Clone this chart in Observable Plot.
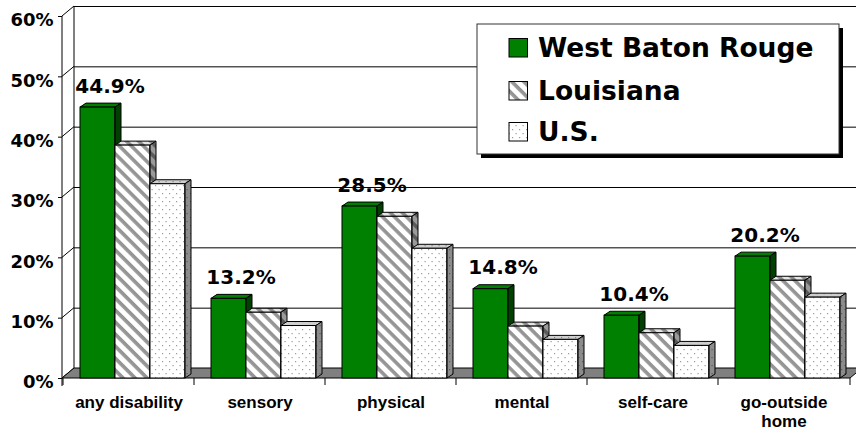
<!DOCTYPE html>
<html><head><meta charset="utf-8">
<script src="https://cdn.jsdelivr.net/npm/d3@7"></script>
<script src="https://cdn.jsdelivr.net/npm/@observablehq/plot@0.6"></script>
<style>html,body{margin:0;padding:0;background:#fff;} #chart svg{display:block}</style>
</head><body><div id="chart"></div>
<script>
// ---- data ----
const categories = ["any disability", "sensory", "physical", "mental", "self-care", "go-outside home"];
const categoryLabels = ["any disability", "sensory", "physical", "mental", "self-care", "go-outside\nhome"];
const seriesNames = ["West Baton Rouge", "Louisiana", "U.S."];
const westBatonRouge = [44.9, 13.2, 28.5, 14.8, 10.4, 20.2];
const louisiana = [38.6, 10.9, 26.8, 8.6, 7.5, 16.2];
const us = [32.2, 8.7, 21.5, 6.4, 5.4, 13.4];
const yTicks = [0, 10, 20, 30, 40, 50, 60];

// ---- layout ----
const W = 856, H = 433, ML = 62, MR = 6, MT = 16, MB = 55;
const BW = (W - ML - MR) / categories.length;
const DX = 12, DY = -10;   // wall depth
const BDX = 6, BDY = -4;   // bar depth
const slots = [[17, 52], [52, 87], [87, 122]];
const styles = [
  {front: "#008000", top: "#008000", side: "#004000"},
  {front: "url(#hatchF)", top: "url(#hatchT)", side: "url(#hatchS)"},
  {front: "url(#dotF)", top: "url(#dotT)", side: "url(#dotS)"}
];
const series = [westBatonRouge, louisiana, us].map((vals, i) =>
  vals.map((v, j) => ({cat: categories[j], value: v, series: seriesNames[i]})));
const labelFont = "'DejaVu Sans', sans-serif";

function wall(index, scales) {
  const {x, y} = scales;
  const g = d3.create("svg:g");
  const defs = g.append("defs");
  function hatch(id, bg, fg) {
    const p = defs.append("pattern").attr("id", id).attr("patternUnits", "userSpaceOnUse")
      .attr("width", 8.5).attr("height", 8.5).attr("patternTransform", "rotate(45)");
    p.append("rect").attr("width", 8.5).attr("height", 8.5).attr("fill", bg);
    p.append("rect").attr("width", 8.5).attr("height", 3.6).attr("fill", fg);
  }
  function dots(id, bg, fg) {
    const p = defs.append("pattern").attr("id", id).attr("patternUnits", "userSpaceOnUse")
      .attr("width", 7).attr("height", 8);
    p.append("rect").attr("width", 7).attr("height", 8).attr("fill", bg);
    p.append("rect").attr("x", 1).attr("y", 1).attr("width", 1.2).attr("height", 1.2).attr("fill", fg);
    p.append("rect").attr("x", 4.5).attr("y", 5).attr("width", 1.2).attr("height", 1.2).attr("fill", fg);
  }
  hatch("hatchF", "#ffffff", "#959595");
  hatch("hatchT", "#e4e4e4", "#8a8a8a");
  hatch("hatchS", "#9a9a9a", "#5a5a5a");
  dots("dotF", "#ffffff", "#9a9a9a");
  dots("dotT", "#cfcfcf", "#888888");
  dots("dotS", "#8c8c8c", "#5a5a5a");
  const [x0] = x.range();
  const yb = y(0), yt = y(60);
  const line = (a, b, c, d) => g.append("line").attr("x1", a).attr("y1", b).attr("x2", c).attr("y2", d)
    .attr("stroke", "black").attr("stroke-width", 1);
  for (const t of yTicks) line(x0, y(t), x0 + DX, y(t) + DY);
  line(x0 + DX, yb + DY, x0 + DX, yt + DY);
  line(x0, yb + 8, x0, yt);
  return g.node();
}

function floor(index, scales) {
  const {x, y} = scales;
  const g = d3.create("svg:g");
  const [x0, x1] = x.range();
  const yb = y(0);
  g.append("path").attr("d", `M${x0},${yb}L${x1},${yb}L${x1 + DX},${yb + DY}L${x0 + DX},${yb + DY}Z`)
    .attr("fill", "#808080").attr("stroke", "black");
  const edges = categories.map(c => x(c)).concat([x1]);
  for (const e of edges) g.append("line").attr("x1", e).attr("x2", e).attr("y1", yb).attr("y2", yb + 7)
    .attr("stroke", "black");
  return g.node();
}

function faces(i) {
  return (index, scales) => {
    const {x, y} = scales;
    const g = d3.create("svg:g");
    const st = styles[i];
    for (const d of series[i]) {
      const a = x(d.cat) + slots[i][0], b = x(d.cat) + slots[i][1];
      const yt = y(d.value), yb = y(0);
      g.append("path").attr("d", `M${a},${yt}L${b},${yt}L${b + BDX},${yt + BDY}L${a + BDX},${yt + BDY}Z`)
        .attr("fill", st.top).attr("stroke", "black").attr("stroke-width", 1);
      g.append("path").attr("d", `M${b},${yt}L${b + BDX},${yt + BDY}L${b + BDX},${yb + BDY}L${b},${yb}Z`)
        .attr("fill", st.side).attr("stroke", "black").attr("stroke-width", 1);
    }
    return g.node();
  };
}

function legend() {
  const g = d3.create("svg:g");
  g.append("rect").attr("x", 481).attr("y", 28).attr("width", 362).attr("height", 130).attr("fill", "black");
  g.append("rect").attr("x", 477).attr("y", 24).attr("width", 362).attr("height", 130)
    .attr("fill", "white").attr("stroke", "#333");
  const rows = [57, 100, 141];
  seriesNames.forEach((name, i) => {
    g.append("rect").attr("x", 509).attr("y", rows[i] - 18.5).attr("width", 18.5).attr("height", 18.5)
      .attr("fill", styles[i].front).attr("stroke", "black");
    g.append("text").attr("x", 538).attr("y", rows[i]).text(name).attr("text-anchor", "start")
      .attr("font-family", labelFont).attr("font-weight", "bold").attr("font-size", 26.5).attr("fill", "black");
  });
  return g.node();
}

const marks = [wall, Plot.gridY(yTicks, {dx: DX, dy: DY, stroke: "black", strokeOpacity: 1}), floor];
series.forEach((data, i) => {
  marks.push(faces(i));
  marks.push(Plot.barY(data, {
    x: "cat", y: "value", fill: styles[i].front, stroke: "black", strokeWidth: 1,
    insetLeft: slots[i][0], insetRight: BW - slots[i][1]
  }));
});
marks.push(Plot.text(series[0], {
  x: "cat", y: "value", text: d => d.value.toFixed(1) + "%", dx: -19, dy: -15, lineAnchor: "bottom",
  fontFamily: labelFont, fontSize: 20, fontWeight: "bold", fill: "black"
}));
marks.push(Plot.axisY(yTicks, {tickSize: 4, tickFormat: () => "", label: null}));
marks.push(Plot.axisY(yTicks, {tickSize: 0, tickPadding: 9, dy: 4, tickFormat: d => d + "%", label: null,
  fontFamily: labelFont, fontSize: 18, fontWeight: "bold", fill: "black"}));
marks.push(Plot.axisX({tickSize: 0, tickPadding: 16, lineHeight: 1.12, label: null,
  tickFormat: d => categoryLabels[categories.indexOf(d)],
  fontSize: 17, fontWeight: "bold", fill: "black"}));
marks.push(legend);

const chart = Plot.plot({
  width: W, height: H, marginLeft: ML, marginRight: MR, marginTop: MT, marginBottom: MB,
  style: {fontFamily: "'Liberation Sans', Arial, sans-serif", fontWeight: "bold", color: "black", background: "white"},
  x: {type: "band", domain: categories, range: [ML, W - MR], padding: 0, label: null},
  y: {domain: [0, 60], range: [H - MB, MT], label: null},
  marks
});
document.getElementById("chart").appendChild(chart);
</script>
</body></html>
